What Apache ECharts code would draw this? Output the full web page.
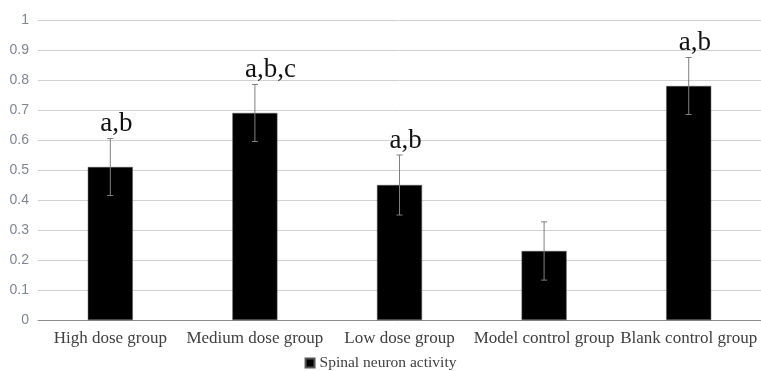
<!DOCTYPE html>
<html>
<head>
<meta charset="utf-8">
<script src="https://cdn.jsdelivr.net/npm/echarts@6/dist/echarts.min.js"></script>
<style>html,body{margin:0;padding:0;background:#fff}#c{width:761px;height:371px}</style>
</head>
<body>
<div id="c"></div>
<script>
var categories = ['High dose group', 'Medium dose group', 'Low dose group', 'Model control group', 'Blank control group'];
var values = [0.51, 0.69, 0.45, 0.23, 0.78];
var errors = [0.095, 0.095, 0.1, 0.097, 0.095];
var marks = ['a,b', 'a,b,c', 'a,b', '', 'a,b'];
var yTicks = [0, 0.1, 0.2, 0.3, 0.4, 0.5, 0.6, 0.7, 0.8, 0.9, 1];

var chart = echarts.init(document.getElementById('c'));
var errData = values.map(function (v, i) { return [i, v - errors[i], v + errors[i]]; });
chart.setOption({
  animation: false,
  grid: { left: 38, right: -4, top: 20, bottom: 51 },
  legend: {
    bottom: -5, left: 'center',
    data: [{ name: 'Spinal neuron activity', icon: 'rect' }],
    itemWidth: 9, itemHeight: 9, itemGap: 5,
    textStyle: { fontFamily: 'Liberation Serif', fontSize: 15.5, color: '#404040' }
  },
  xAxis: {
    type: 'category', data: categories,
    axisLine: { lineStyle: { color: '#8c8c8c', width: 1 } },
    axisTick: { show: false },
    axisLabel: { fontFamily: 'Liberation Serif', fontSize: 17, color: '#404040', margin: 10, interval: 0 }
  },
  yAxis: {
    type: 'value', min: 0, max: 1, interval: 0.1,
    axisLine: { show: false }, axisTick: { show: false },
    axisLabel: { fontFamily: 'Liberation Sans', fontSize: 14, color: '#7f8595', margin: 9,
      formatter: function (v) { return String(Math.round(v * 10) / 10); } },
    splitLine: { lineStyle: { color: '#d0d0d0', width: 1 } }
  },
  series: [{
    name: 'Spinal neuron activity', type: 'bar', data: values, barWidth: 45,
    itemStyle: { color: '#000000', borderColor: '#555', borderWidth: 0.5 }
  }, {
    type: 'custom', data: errData, z: 10,
    renderItem: function (params, api) {
      var x = api.value(0);
      var lo = api.coord([x, api.value(1)]);
      var hi = api.coord([x, api.value(2)]);
      var cap = 3;
      var style = { stroke: '#7f7f7f', lineWidth: 1 };
      var children = [
        { type: 'line', shape: { x1: hi[0], y1: hi[1], x2: lo[0], y2: lo[1] }, style: style },
        { type: 'line', shape: { x1: hi[0] - cap, y1: hi[1], x2: hi[0] + cap, y2: hi[1] }, style: style },
        { type: 'line', shape: { x1: lo[0] - cap, y1: lo[1], x2: lo[0] + cap, y2: lo[1] }, style: style }
      ];
      var t = marks[params.dataIndex];
      if (t) {
        children.push({ type: 'text', style: { text: t, x: hi[0] - 10, y: hi[1] - 1, textAlign: 'left', textVerticalAlign: 'bottom',
          fontFamily: 'Liberation Serif', fontSize: 27, fill: '#111' } });
      }
      return { type: 'group', children: children };
    }
  }]
});
</script>
</body>
</html>
